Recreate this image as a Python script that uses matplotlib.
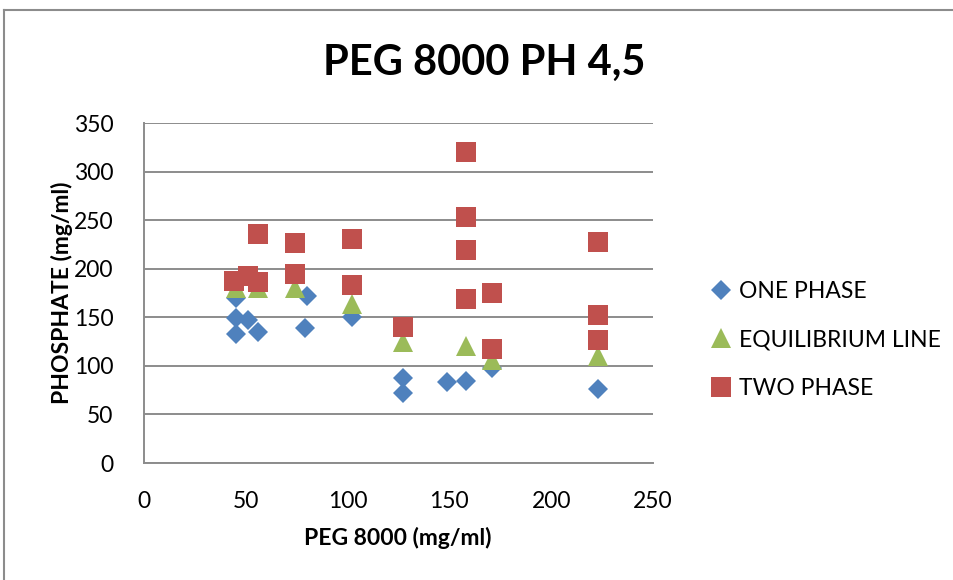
import matplotlib
matplotlib.use("Agg")
import matplotlib.pyplot as plt
from matplotlib.lines import Line2D

plt.rcParams['font.family'] = ['Lato', 'DejaVu Sans']

title = "PEG 8000 PH 4,5"
xlabel = "PEG 8000 (mg/ml)"
ylabel = "PHOSPHATE (mg/ml)"
series_names = ["ONE PHASE", "EQUILIBRIUM LINE", "TWO PHASE"]

one_x = [45, 45, 51, 45, 56, 80, 79, 102, 127, 127, 149, 158, 171, 223]
one_y = [170, 149, 147, 133, 135, 172, 139, 150, 87, 72, 83, 84, 98, 76]

eq_x = [45, 56, 74, 102, 127, 158, 171, 223]
eq_y = [180, 180, 180, 164, 125, 120, 106, 110]

two_x = [44, 51, 56, 56, 74, 74, 102, 102, 127, 158, 158, 158, 158, 171, 171, 223, 223, 223]
two_y = [187, 193, 186, 236, 226, 195, 231, 183, 140, 320, 253, 219, 169, 175, 117, 227, 152, 127]

x_ticks = [0, 50, 100, 150, 200, 250]
y_ticks = [0, 50, 100, 150, 200, 250, 300, 350]

colors = ["#4F81BD", "#9BBB59", "#C0504D"]
W, H = 954, 580
fig = plt.figure(figsize=(W / 100, H / 100), dpi=100)
ax = fig.add_axes([144 / W, 1 - 463 / H, (653 - 144) / W, (463 - 123) / H])

ax.plot(one_x, one_y, linestyle='none', marker='D', markersize=10.2,
        color=colors[0], markeredgewidth=0, label=series_names[0], clip_on=False)
ax.plot(eq_x, eq_y, linestyle='none', marker='^', markersize=14.4,
        color=colors[1], markeredgewidth=0, label=series_names[1], clip_on=False)
ax.plot(two_x, two_y, linestyle='none', marker='s', markersize=14.4,
        color=colors[2], markeredgewidth=0, label=series_names[2], clip_on=False)

ax.set_xlim(0, 250)
ax.set_ylim(0, 350)
ax.set_xticks(x_ticks)
ax.set_yticks(y_ticks)
ax.tick_params(axis='both', length=0, labelsize=16.5, colors='black')
ax.tick_params(axis='x', pad=20)
ax.tick_params(axis='y', pad=22)
grid_c = '#8c8c8c'
ax.yaxis.grid(True, color=grid_c, linewidth=1.4)
ax.set_axisbelow(True)
for s in ['top', 'right']:
    ax.spines[s].set_visible(False)
for s in ['left', 'bottom']:
    ax.spines[s].set_color(grid_c)
    ax.spines[s].set_linewidth(1.4)

ax.set_xlabel(xlabel, fontsize=16.5, fontweight='bold')
ax.set_ylabel(ylabel, fontsize=16.5, fontweight='bold')
ax.xaxis.set_label_coords((398 - 144) / 509, (463 - 538) / 340)
ax.yaxis.set_label_coords((62 - 144) / 509, (463 - 293) / 340)
ax.xaxis.label.set_va('center')
ax.yaxis.label.set_va('center')

fig.text(484 / W, 1 - 63 / H, title, fontsize=30, fontweight='bold',
         ha='center', va='center')

# chart border (left and top visible)
fig.add_artist(Line2D([4.5 / W, 4.5 / W], [0, 1 - 10 / H], transform=fig.transFigure,
                      color=grid_c, linewidth=1.5))
fig.add_artist(Line2D([4.5 / W, 1], [1 - 10 / H, 1 - 10 / H], transform=fig.transFigure,
                      color=grid_c, linewidth=1.5))

leg = fig.legend(loc='center left', bbox_to_anchor=(713 / W, 1 - 340 / H),
                 frameon=False, fontsize=16.5, markerscale=1.0,
                 handlelength=0.7, handletextpad=0.45, labelspacing=1.2,
                 borderaxespad=0, borderpad=0)

fig.savefig("out.png", dpi=100)
